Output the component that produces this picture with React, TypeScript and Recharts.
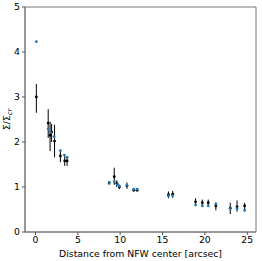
import { ScatterChart, Scatter, XAxis, YAxis, ErrorBar, ReferenceArea, Label } from 'recharts'

// model values (blue)
const modelX = [0.1, 1.5, 1.8, 2.2, 2.94, 3.41, 3.73, 8.7, 9.3, 9.7, 9.9, 10.8, 11.6, 12.0, 15.7, 16.2, 18.9, 19.7, 20.4, 21.3, 23.0, 23.8, 24.7]
const modelY = [4.23, 2.29, 2.21, 2.12, 1.81, 1.71, 1.66, 1.1, 1.12, 1.06, 1.02, 1.04, 0.95, 0.95, 0.8, 0.81, 0.6, 0.58, 0.58, 0.62, 0.52, 0.52, 0.48]

// measured values with error range (black)
const obsX = [0.1, 1.5, 1.72, 1.9, 2.25, 2.94, 3.45, 3.73, 8.7, 9.3, 9.6, 9.9, 10.8, 11.6, 12.0, 15.7, 16.2, 18.9, 19.7, 20.4, 21.3, 23.0, 23.8, 24.7]
const obsY = [3.0, 2.42, 2.15, 2.22, 2.02, 1.69, 1.58, 1.58, 1.09, 1.23, 1.08, 1.0, 1.03, 0.93, 0.93, 0.83, 0.84, 0.67, 0.65, 0.65, 0.58, 0.53, 0.56, 0.58]
const obsLo = [2.65, 2.09, 1.8, 2.0, 1.66, 1.55, 1.47, 1.47, 1.05, 1.05, 1.0, 0.95, 0.96, 0.9, 0.9, 0.75, 0.76, 0.6, 0.58, 0.58, 0.48, 0.4, 0.45, 0.5]
const obsHi = [3.29, 2.73, 2.45, 2.4, 2.38, 1.8, 1.7, 1.68, 1.13, 1.43, 1.15, 1.05, 1.1, 0.97, 0.97, 0.9, 0.91, 0.75, 0.72, 0.72, 0.66, 0.65, 0.7, 0.65]

const xTicks = [0, 5, 10, 15, 20, 25]
const yTicks = [0, 1, 2, 3, 4, 5]
const X_MIN = -1.24
const X_MAX = 26.04

const model = modelX.map((x, i) => ({ x, y: modelY[i] }))
const obs = obsX.map((x, i) => ({ x, y: obsY[i], err: [obsY[i] - obsLo[i], obsHi[i] - obsY[i]] }))

const FONT = 'DejaVu Sans, sans-serif'
const tickStyle = { fill: '#000', fontSize: 9.3, fontFamily: FONT }

const dot = (color: string) => (p: any) => <circle cx={p.cx} cy={p.cy} r={1.4} fill={color} />

const YLabel = () => (
  <text transform="translate(10,119.5) rotate(-90)" textAnchor="middle" fontSize={9.3} fontFamily={FONT} fill="#000">
    <tspan>Σ/Σ</tspan>
    <tspan fontSize={6.8} fontStyle="italic" dy={2}>cr</tspan>
  </text>
)

export default function App() {
  return (
    <div style={{ position: 'absolute', left: 0, top: 0, background: '#fff' }}>
      <ScatterChart width={262} height={261} margin={{ top: 7, right: 6, left: 0, bottom: 0 }}>
        <XAxis
          type="number"
          dataKey="x"
          domain={[X_MIN, X_MAX]}
          ticks={xTicks}
          allowDataOverflow
          tick={tickStyle}
          tickSize={3}
          tickMargin={1}
          height={29}
          axisLine={{ stroke: '#777' }}
          tickLine={{ stroke: '#555' }}
        >
          <Label value="Distance from NFW center [arcsec]" position="insideBottom" offset={4} style={{ fontSize: 9.3, fontFamily: FONT, fill: '#000' }} />
        </XAxis>
        <YAxis
          type="number"
          dataKey="y"
          domain={[0, 5]}
          ticks={yTicks}
          tick={tickStyle}
          tickSize={3}
          tickMargin={2}
          width={25}
          axisLine={{ stroke: '#777' }}
          tickLine={{ stroke: '#555' }}
        >
          <Label content={<YLabel />} />
        </YAxis>
        <ReferenceArea x1={X_MIN} x2={X_MAX} y1={0} y2={5} fill="none" stroke="#777" strokeWidth={1} />
        <Scatter data={obs} shape={dot('#000')} isAnimationActive={false}>
          <ErrorBar dataKey="err" direction="y" width={0} stroke="#000" strokeWidth={1} />
        </Scatter>
        <Scatter data={model} shape={dot('#1f77b4')} isAnimationActive={false} />
      </ScatterChart>
    </div>
  )
}
